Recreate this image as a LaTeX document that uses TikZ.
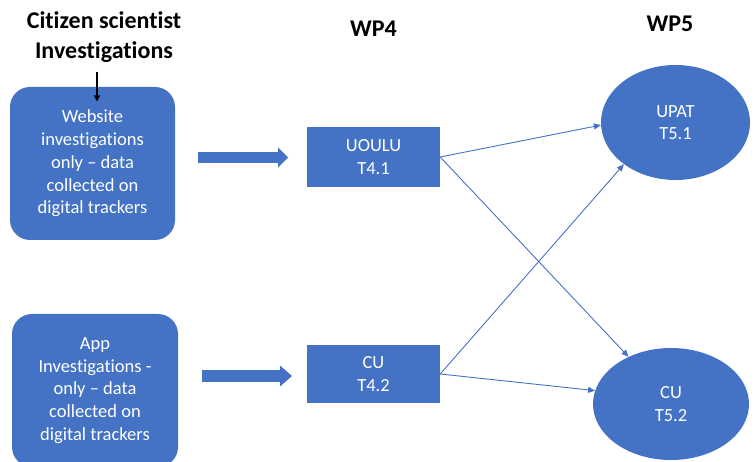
\documentclass[tikz,border=0pt]{standalone}
\usepackage{fontspec}
\setmainfont{Carlito}[Ligatures=NoCommon]
\usetikzlibrary{shapes.geometric,arrows.meta}
\definecolor{obl}{HTML}{4472C4}
\begin{document}
\begin{tikzpicture}[x=1pt,y=-1pt,
  box/.style={fill=obl, draw=none, text=white, align=center, inner sep=0pt,
    font=\fontsize{18.5}{22.7}\selectfont},
  ttl/.style={align=center, inner sep=0pt, font=\fontsize{24}{29.5}\selectfont\bfseries},
  conn/.style={draw=obl, line width=0.9pt, -{Triangle[length=7pt,width=6pt]}},
  blockarrow/.style={draw=obl, -{Triangle[length=10pt,width=20pt,line width=0pt]}}]
\useasboundingbox (0,0) rectangle (755,462);
\clip (0,0) rectangle (755,462);

% titles
\node[ttl] (cs) at (104,37) {Citizen scientist\\Investigations};
\node[ttl] (wp4) at (373.5,29) {WP4};
\node[ttl] (wp5) at (670,24) {WP5};

% boxes
\node[box, rounded corners=20pt, minimum width=165pt, minimum height=153pt] (web) at (92.5,163.5)
  {Website\\investigations\\only – data\\collected on\\digital trackers};
\node[box, rounded corners=20pt, minimum width=166pt, minimum height=153pt] (app) at (95,390.5)
  {App\\Investigations -\\only – data\\collected on\\digital trackers};
\node[box, minimum width=133pt, minimum height=60pt] (t41) at (373.5,157) {UOULU\\T4.1};
\node[box, minimum width=133pt, minimum height=58pt] (t42) at (373.5,374) {CU\\T4.2};
\node[box, ellipse, minimum width=149pt, minimum height=115pt] (t51) at (675.5,122.5) {UPAT\\T5.1};
\node[box, ellipse, minimum width=156pt, minimum height=112pt] (t52) at (671,404) {CU\\T5.2};

% arrow from title
\coordinate (ca) at (97,72);
\coordinate (cb) at (97,101.5);
\draw[line width=1.4pt, -{Triangle[length=6pt,width=6pt]}] (ca) -- (cb);

% block arrows
\coordinate (b1s) at (198,157.5);
\coordinate (b1e) at (288,157.5);
\draw[blockarrow, line width=11pt] (b1s) -- (b1e);
\coordinate (b2s) at (202,376);
\coordinate (b2e) at (292,376);
\draw[blockarrow, line width=12pt, -{Triangle[length=12pt,width=21pt,line width=0pt]}] (b2s) -- (b2e);

% connectors
\draw[conn] (t41.east) -- (t51.182);
\draw[conn] (t41.east) -- (t52.132);
\draw[conn] (t42.east) -- (t51.219);
\draw[conn] (t42.east) -- (t52.170);
\end{tikzpicture}
\end{document}
